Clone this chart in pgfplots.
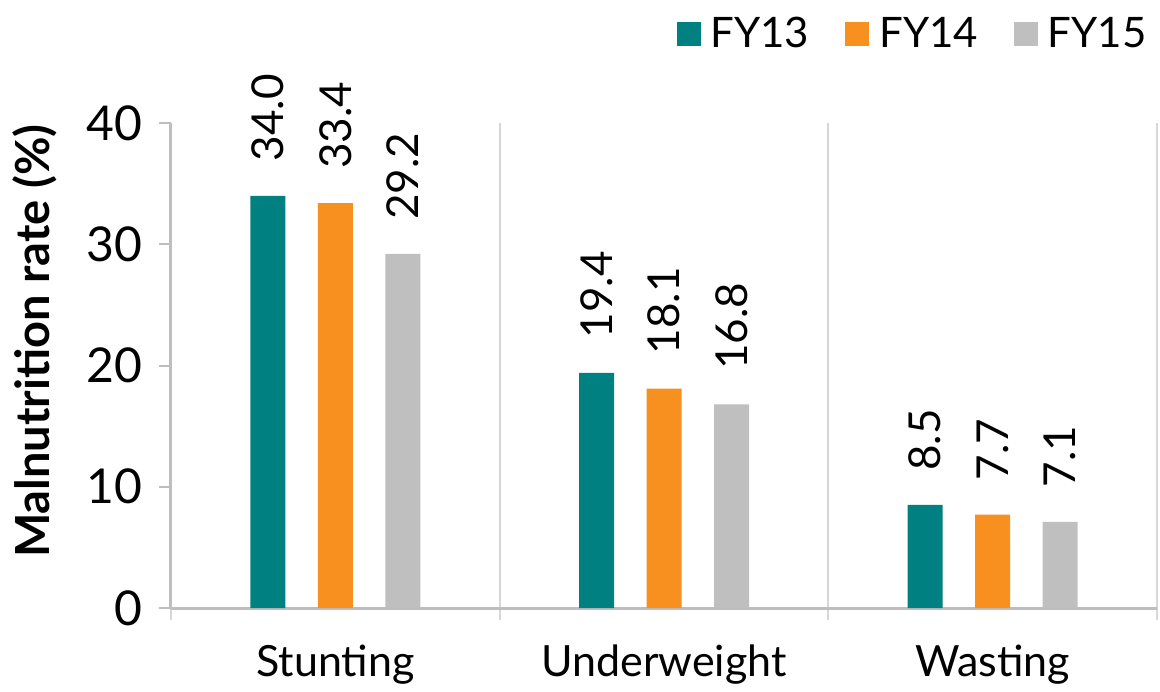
\documentclass[border=0pt]{standalone}
\usepackage{fontspec}
\setmainfont{Lato}
\usepackage{pgfplots}
\pgfplotsset{compat=1.18}
\definecolor{fyteal}{RGB}{0,128,128}
\definecolor{fyorange}{RGB}{247,144,30}
\definecolor{fygray}{RGB}{191,191,191}
\definecolor{axisgray}{RGB}{190,190,190}
\definecolor{sepgray}{RGB}{215,215,215}
\newcommand\lab{\fontsize{24}{28}\selectfont}
\begin{document}
\begin{tikzpicture}
\begin{axis}[
    name=ax,
    scale only axis,
    width=493pt, height=242.5pt,
    xmin=-0.5, xmax=2.5, ymin=0, ymax=40,
    ybar=16.25pt, bar width=17.5pt,
    axis x line*=bottom, axis y line*=left,
    axis line style={draw=axisgray, line width=1.5pt},
    tick align=outside, major tick length=6pt,
    xtick={-0.5,0.5,1.5,2.5}, xticklabels={},
    xmajorgrids, grid style={sepgray, line width=1pt},
    x tick style={sepgray, line width=1pt},
    extra x ticks={0,1,2},
    extra x tick labels={Stunting,Underweight,Wasting},
    extra x tick style={grid=none, tick style={draw=none},
        tick label style={font=\fontsize{21.5}{25}\selectfont, yshift=-9pt}},
    ytick={0,10,20,30,40},
    y tick style={axisgray, line width=1pt},
    yticklabel style={font=\lab, xshift=-5pt},
    /pgf/number format/assume math mode=true,
    ylabel={\bfseries Malnutrition rate (\%)},
    ylabel style={at={(rel axis cs:-0.138,0.55)}, anchor=center,
        font=\fontsize{23.5}{26}\selectfont},
    nodes near coords={\pgfmathprintnumber[fixed,fixed zerofill,precision=1]{\pgfplotspointmeta}},
    nodes near coords style={rotate=90, anchor=west, black,
        font=\fontsize{22}{26}\selectfont, inner xsep=17pt, inner ysep=0pt},
    legend style={at={(1.0,1.183)}, anchor=east, draw=none, fill=none,
        legend columns=3, font=\fontsize{21}{24}\selectfont,
        /tikz/every odd column/.append style={column sep=3pt},
        /tikz/every even column/.append style={column sep=16pt}},
    leg/.style={legend image code/.code={\fill[##1] (0pt,-6pt) rectangle (12pt,6pt);}},
]
\addplot[fill=fyteal, draw=none, leg] coordinates {(0,34.0) (1,19.4) (2,8.5)};
\addplot[fill=fyorange, draw=none, leg] coordinates {(0,33.4) (1,18.1) (2,7.7)};
\addplot[fill=fygray, draw=none, leg] coordinates {(0,29.2) (1,16.8) (2,7.1)};
\legend{FY13, FY14, FY15}
\end{axis}
\pgfresetboundingbox
\path (ax.south west) ++(-85.5pt,-41.5pt) rectangle ++(580pt,345.5pt);
\end{tikzpicture}
\end{document}
